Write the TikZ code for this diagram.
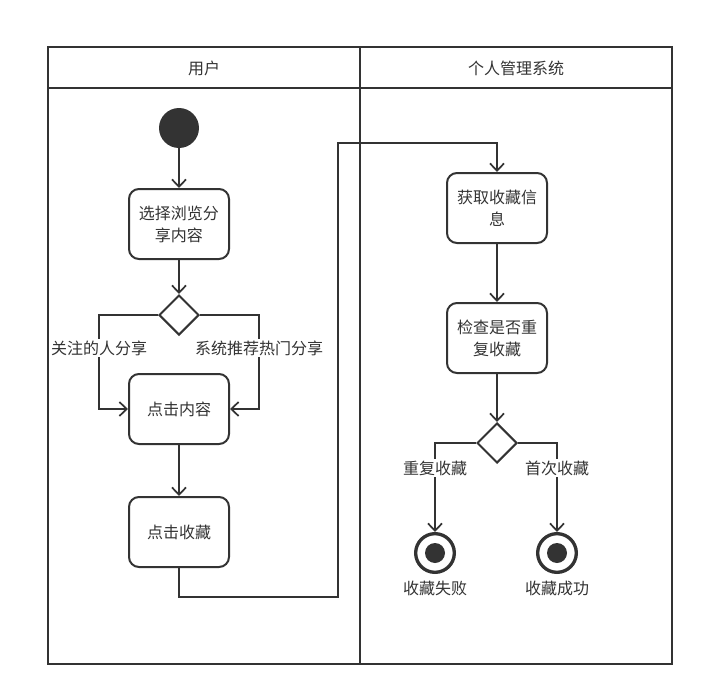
\documentclass[tikz,border=0pt]{standalone}
\usepackage{fontspec}
\setmainfont{Noto Sans CJK SC}
\usetikzlibrary{arrows.meta,shapes.geometric}
\definecolor{ink}{HTML}{333333}
\tikzset{
  lane/.style={draw=ink, line width=1.5pt},
  act/.style={draw=ink, line width=1.5pt, rounded corners=7.5pt, minimum width=75pt, minimum height=52.5pt, align=center, text width=70pt, inner sep=0pt, font=\fontsize{12}{16.5}\selectfont, text=ink},
  dec/.style={draw=ink, line width=1.5pt, diamond, minimum width=30pt, minimum height=30pt, inner sep=0pt, fill=white},
  startn/.style={circle, fill=ink, minimum size=30pt, inner sep=0pt},
  endn/.style={circle, draw=ink, line width=2.5pt, fill=white, minimum size=29pt, inner sep=0pt, path picture={\fill[ink] (path picture bounding box.center) circle (7.5pt);}},
  flow/.style={draw=ink, line width=1.5pt, -{Straight Barb[length=5.5pt,width=10.5pt,line width=1.3pt]}},
  lbl/.style={fill=white, inner sep=1pt, font=\fontsize{12}{14}\selectfont, text=ink},
  hdr/.style={font=\fontsize{12}{14}\selectfont, text=ink}
}
\begin{document}
\begin{tikzpicture}[x=0.75pt,y=-0.75pt]
\useasboundingbox (0,0) rectangle (704,696);
% swimlanes
\draw[lane] (48,47) rectangle (672,664);
\draw[lane] (48,88) -- (672,88);
\draw[lane] (360,47) -- (360,664);
\node[hdr] (h1) at (204,68) {用户};
\node[hdr] (h2) at (516,68) {个人管理系统};
% nodes
\node[startn] (s) at (179,128) {};
\node[act] (a1) at (179,224) {选择浏览分\\享内容};
\node[dec] (d1) at (179,315) {};
\node[act] (a2) at (179,409) {点击内容};
\node[act] (a3) at (179,532) {点击收藏};
\node[act] (b1) at (497,208) {获取收藏信\\息};
\node[act] (b2) at (497,338) {检查是否重\\复收藏};
\node[dec] (d2) at (497,443) {};
\node[endn] (e1) at (435,553) {};
\node[endn] (e2) at (557,553) {};
\node[hdr] (t1) at (435,588) {收藏失败};
\node[hdr] (t2) at (557,588) {收藏成功};
% connectors
\draw[flow] (s) -- (a1);
\draw[flow] (a1) -- (d1);
\draw[flow] (d1.west) -| (99,409) -- (a2.west);
\draw[flow] (d1.east) -| (259,409) -- (a2.east);
\node[lbl] (l1) at (99,348) {关注的人分享};
\node[lbl] (l2) at (259,348) {系统推荐热门分享};
\draw[flow] (a2) -- (a3);
\draw[flow] (a3.south) |- (338,597) |- (497,143) -- (b1.north);
\draw[flow] (b1) -- (b2);
\draw[flow] (b2) -- (d2);
\draw[flow] (d2.west) -| (e1.north);
\draw[flow] (d2.east) -| (e2.north);
\node[lbl] (l3) at (435,468) {重复收藏};
\node[lbl] (l4) at (557,468) {首次收藏};
\end{tikzpicture}
\end{document}
